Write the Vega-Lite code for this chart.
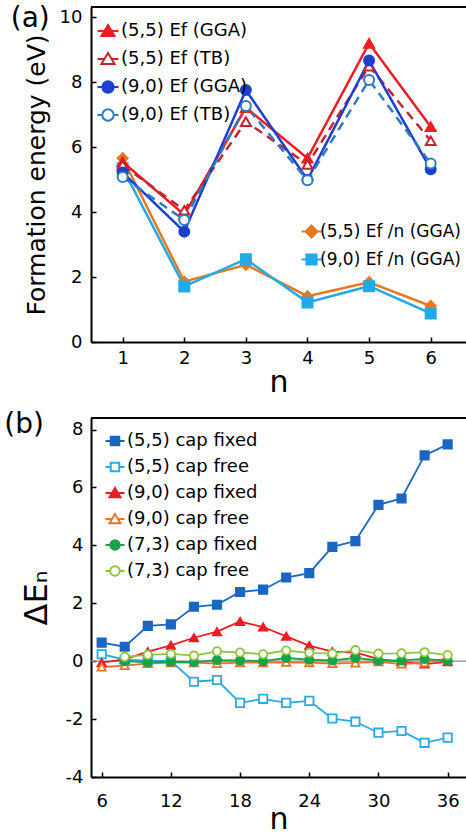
{
  "$schema": "https://vega.github.io/schema/vega-lite/v6.json",
  "background": "white",
  "padding": {"left": 4, "top": 5, "right": 0, "bottom": 0},
  "bounds": "flush",
  "spacing": 76,
  "config": {
    "font": "DejaVu Sans",
    "view": {"stroke": null},
    "axis": {"grid": false, "domainColor": "black", "domainWidth": 2, "tickColor": "black", "tickWidth": 1.5, "labelColor": "black", "titleColor": "black", "labelFont": "DejaVu Sans", "titleFont": "DejaVu Sans", "titleFontWeight": "normal", "labelFontSize": 18, "tickSize": -5, "labelOverlap": false},
    "legend": {"labelFont": "DejaVu Sans", "labelColor": "black", "padding": 0, "title": null}
  },
  "datasets": {
    "a1": [
      {"s": "(5,5) Ef (GGA)", "n": 1, "v": 5.55}, {"s": "(5,5) Ef (GGA)", "n": 2, "v": 3.92}, {"s": "(5,5) Ef (GGA)", "n": 3, "v": 7.22}, {"s": "(5,5) Ef (GGA)", "n": 4, "v": 5.66}, {"s": "(5,5) Ef (GGA)", "n": 5, "v": 9.2}, {"s": "(5,5) Ef (GGA)", "n": 6, "v": 6.63},
      {"s": "(5,5) Ef (TB)", "n": 1, "v": 5.45}, {"s": "(5,5) Ef (TB)", "n": 2, "v": 4.06}, {"s": "(5,5) Ef (TB)", "n": 3, "v": 6.79}, {"s": "(5,5) Ef (TB)", "n": 4, "v": 5.47}, {"s": "(5,5) Ef (TB)", "n": 5, "v": 8.5}, {"s": "(5,5) Ef (TB)", "n": 6, "v": 6.2},
      {"s": "(9,0) Ef (GGA)", "n": 1, "v": 5.22}, {"s": "(9,0) Ef (GGA)", "n": 2, "v": 3.4}, {"s": "(9,0) Ef (GGA)", "n": 3, "v": 7.76}, {"s": "(9,0) Ef (GGA)", "n": 4, "v": 5.0}, {"s": "(9,0) Ef (GGA)", "n": 5, "v": 8.67}, {"s": "(9,0) Ef (GGA)", "n": 6, "v": 5.32},
      {"s": "(9,0) Ef (TB)", "n": 1, "v": 5.08}, {"s": "(9,0) Ef (TB)", "n": 2, "v": 3.76}, {"s": "(9,0) Ef (TB)", "n": 3, "v": 7.27}, {"s": "(9,0) Ef (TB)", "n": 4, "v": 4.98}, {"s": "(9,0) Ef (TB)", "n": 5, "v": 8.07}, {"s": "(9,0) Ef (TB)", "n": 6, "v": 5.5}
    ],
    "a2": [
      {"s": "(5,5) Ef /n (GGA)", "n": 1, "v": 5.66}, {"s": "(5,5) Ef /n (GGA)", "n": 2, "v": 1.86}, {"s": "(5,5) Ef /n (GGA)", "n": 3, "v": 2.38}, {"s": "(5,5) Ef /n (GGA)", "n": 4, "v": 1.41}, {"s": "(5,5) Ef /n (GGA)", "n": 5, "v": 1.84}, {"s": "(5,5) Ef /n (GGA)", "n": 6, "v": 1.11},
      {"s": "(9,0) Ef /n (GGA)", "n": 1, "v": 5.35}, {"s": "(9,0) Ef /n (GGA)", "n": 2, "v": 1.71}, {"s": "(9,0) Ef /n (GGA)", "n": 3, "v": 2.55}, {"s": "(9,0) Ef /n (GGA)", "n": 4, "v": 1.22}, {"s": "(9,0) Ef /n (GGA)", "n": 5, "v": 1.72}, {"s": "(9,0) Ef /n (GGA)", "n": 6, "v": 0.88}
    ],
    "b": [
      {"s": "(5,5) cap fixed", "n": 6, "v": 0.64}, {"s": "(5,5) cap fixed", "n": 8, "v": 0.5}, {"s": "(5,5) cap fixed", "n": 10, "v": 1.22}, {"s": "(5,5) cap fixed", "n": 12, "v": 1.27}, {"s": "(5,5) cap fixed", "n": 14, "v": 1.88}, {"s": "(5,5) cap fixed", "n": 16, "v": 1.95}, {"s": "(5,5) cap fixed", "n": 18, "v": 2.39}, {"s": "(5,5) cap fixed", "n": 20, "v": 2.47}, {"s": "(5,5) cap fixed", "n": 22, "v": 2.89}, {"s": "(5,5) cap fixed", "n": 24, "v": 3.04}, {"s": "(5,5) cap fixed", "n": 26, "v": 3.95}, {"s": "(5,5) cap fixed", "n": 28, "v": 4.15}, {"s": "(5,5) cap fixed", "n": 30, "v": 5.4}, {"s": "(5,5) cap fixed", "n": 32, "v": 5.62}, {"s": "(5,5) cap fixed", "n": 34, "v": 7.11}, {"s": "(5,5) cap fixed", "n": 36, "v": 7.49},
      {"s": "(5,5) cap free", "n": 6, "v": 0.24}, {"s": "(5,5) cap free", "n": 8, "v": 0.05}, {"s": "(5,5) cap free", "n": 10, "v": 0.02}, {"s": "(5,5) cap free", "n": 12, "v": 0.01}, {"s": "(5,5) cap free", "n": 14, "v": -0.71}, {"s": "(5,5) cap free", "n": 16, "v": -0.65}, {"s": "(5,5) cap free", "n": 18, "v": -1.44}, {"s": "(5,5) cap free", "n": 20, "v": -1.3}, {"s": "(5,5) cap free", "n": 22, "v": -1.44}, {"s": "(5,5) cap free", "n": 24, "v": -1.37}, {"s": "(5,5) cap free", "n": 26, "v": -1.98}, {"s": "(5,5) cap free", "n": 28, "v": -2.09}, {"s": "(5,5) cap free", "n": 30, "v": -2.47}, {"s": "(5,5) cap free", "n": 32, "v": -2.41}, {"s": "(5,5) cap free", "n": 34, "v": -2.82}, {"s": "(5,5) cap free", "n": 36, "v": -2.64},
      {"s": "(9,0) cap fixed", "n": 6, "v": -0.05}, {"s": "(9,0) cap fixed", "n": 8, "v": 0.06}, {"s": "(9,0) cap fixed", "n": 10, "v": 0.33}, {"s": "(9,0) cap fixed", "n": 12, "v": 0.55}, {"s": "(9,0) cap fixed", "n": 14, "v": 0.81}, {"s": "(9,0) cap fixed", "n": 16, "v": 1.02}, {"s": "(9,0) cap fixed", "n": 18, "v": 1.37}, {"s": "(9,0) cap fixed", "n": 20, "v": 1.18}, {"s": "(9,0) cap fixed", "n": 22, "v": 0.86}, {"s": "(9,0) cap fixed", "n": 24, "v": 0.54}, {"s": "(9,0) cap fixed", "n": 26, "v": 0.33}, {"s": "(9,0) cap fixed", "n": 28, "v": 0.3}, {"s": "(9,0) cap fixed", "n": 30, "v": 0.07}, {"s": "(9,0) cap fixed", "n": 32, "v": -0.02}, {"s": "(9,0) cap fixed", "n": 34, "v": -0.1}, {"s": "(9,0) cap fixed", "n": 36, "v": -0.02},
      {"s": "(9,0) cap free", "n": 6, "v": -0.2}, {"s": "(9,0) cap free", "n": 8, "v": -0.15}, {"s": "(9,0) cap free", "n": 10, "v": -0.08}, {"s": "(9,0) cap free", "n": 12, "v": -0.05}, {"s": "(9,0) cap free", "n": 14, "v": -0.05}, {"s": "(9,0) cap free", "n": 16, "v": -0.08}, {"s": "(9,0) cap free", "n": 18, "v": -0.05}, {"s": "(9,0) cap free", "n": 20, "v": -0.05}, {"s": "(9,0) cap free", "n": 22, "v": -0.04}, {"s": "(9,0) cap free", "n": 24, "v": -0.05}, {"s": "(9,0) cap free", "n": 26, "v": -0.08}, {"s": "(9,0) cap free", "n": 28, "v": -0.06}, {"s": "(9,0) cap free", "n": 30, "v": -0.02}, {"s": "(9,0) cap free", "n": 32, "v": -0.1}, {"s": "(9,0) cap free", "n": 34, "v": -0.05}, {"s": "(9,0) cap free", "n": 36, "v": 0.1},
      {"s": "(7,3) cap fixed", "n": 8, "v": 0.0}, {"s": "(7,3) cap fixed", "n": 10, "v": -0.04}, {"s": "(7,3) cap fixed", "n": 12, "v": -0.02}, {"s": "(7,3) cap fixed", "n": 14, "v": -0.03}, {"s": "(7,3) cap fixed", "n": 16, "v": 0.04}, {"s": "(7,3) cap fixed", "n": 18, "v": 0.03}, {"s": "(7,3) cap fixed", "n": 20, "v": 0.0}, {"s": "(7,3) cap fixed", "n": 22, "v": 0.11}, {"s": "(7,3) cap fixed", "n": 24, "v": 0.05}, {"s": "(7,3) cap fixed", "n": 26, "v": 0.03}, {"s": "(7,3) cap fixed", "n": 28, "v": 0.11}, {"s": "(7,3) cap fixed", "n": 30, "v": 0.03}, {"s": "(7,3) cap fixed", "n": 32, "v": 0.03}, {"s": "(7,3) cap fixed", "n": 34, "v": 0.08}, {"s": "(7,3) cap fixed", "n": 36, "v": 0.01},
      {"s": "(7,3) cap free", "n": 8, "v": 0.15}, {"s": "(7,3) cap free", "n": 10, "v": 0.22}, {"s": "(7,3) cap free", "n": 12, "v": 0.25}, {"s": "(7,3) cap free", "n": 14, "v": 0.19}, {"s": "(7,3) cap free", "n": 16, "v": 0.34}, {"s": "(7,3) cap free", "n": 18, "v": 0.3}, {"s": "(7,3) cap free", "n": 20, "v": 0.24}, {"s": "(7,3) cap free", "n": 22, "v": 0.37}, {"s": "(7,3) cap free", "n": 24, "v": 0.29}, {"s": "(7,3) cap free", "n": 26, "v": 0.26}, {"s": "(7,3) cap free", "n": 28, "v": 0.38}, {"s": "(7,3) cap free", "n": 30, "v": 0.26}, {"s": "(7,3) cap free", "n": 32, "v": 0.27}, {"s": "(7,3) cap free", "n": 34, "v": 0.31}, {"s": "(7,3) cap free", "n": 36, "v": 0.21}
    ]
  },
  "vconcat": [
    {
      "width": 375,
      "height": 335,
      "layer": [
        {
          "data": {"values": [{"t": "top"}]},
          "mark": {"type": "rule", "color": "black", "strokeWidth": 2},
          "encoding": {"y": {"datum": 10.32, "type": "quantitative", "scale": {"domain": [0, 10.32], "nice": false}}}
        },
        {
          "data": {"name": "a2"},
          "mark": {"type": "line", "strokeWidth": 2.5},
          "encoding": {
            "x": {"field": "n", "type": "quantitative", "scale": {"domain": [0.486, 6.573], "nice": false, "zero": false},
              "axis": {"values": [1, 2, 3, 4, 5, 6], "format": "d", "labelPadding": 12, "title": "n", "titleFontSize": 30, "titlePadding": 0}},
            "y": {"field": "v", "type": "quantitative", "scale": {"domain": [0, 10.32], "nice": false},
              "axis": {"values": [0, 1, 2, 3, 4, 5, 6, 7, 8, 9, 10], "labelExpr": "datum.value % 2 == 0 ? toString(datum.value) : ''", "labelPadding": 14, "title": "Formation energy (eV)", "titleFontSize": 25, "titlePadding": 10}},
            "stroke": {"field": "s", "type": "nominal", "scale": {"domain": ["(5,5) Ef /n (GGA)", "(9,0) Ef /n (GGA)"], "range": ["#e8781e", "#22a9e8"]}, "legend": null}
          }
        },
        {
          "data": {"name": "a2"},
          "mark": {"type": "point", "filled": false, "opacity": 1, "strokeWidth": 2, "size": 100},
          "encoding": {
            "x": {"field": "n", "type": "quantitative"},
            "y": {"field": "v", "type": "quantitative"},
            "stroke": {"field": "s", "type": "nominal", "scale": {"domain": ["(5,5) Ef /n (GGA)", "(9,0) Ef /n (GGA)"], "range": ["#e8781e", "#22a9e8"]}, "legend": null},
            "fill": {"field": "s", "type": "nominal", "scale": {"domain": ["(5,5) Ef /n (GGA)", "(9,0) Ef /n (GGA)"], "range": ["#e8781e", "#22a9e8"]}, "legend": null},
            "shape": {"field": "s", "type": "nominal", "scale": {"domain": ["(5,5) Ef /n (GGA)", "(9,0) Ef /n (GGA)"], "range": ["diamond", "square"]}, "legend": null}
          }
        },
        {
          "data": {"name": "a2"},
          "mark": {"type": "point", "filled": false, "opacity": 1, "strokeWidth": 2, "size": 0},
          "encoding": {
            "x": {"field": "n", "type": "quantitative"},
            "y": {"field": "v", "type": "quantitative"},
            "stroke": {"field": "s", "type": "nominal", "scale": {"domain": ["(5,5) Ef /n (GGA)", "(9,0) Ef /n (GGA)"], "range": ["#e8781e", "#22a9e8"]},
              "legend": {"orient": "none", "legendX": 212, "legendY": 216, "symbolSize": 144, "symbolStrokeWidth": 2, "labelFontSize": 17, "labelOffset": 0, "rowPadding": 8}},
            "fill": {"field": "s", "type": "nominal", "scale": {"domain": ["(5,5) Ef /n (GGA)", "(9,0) Ef /n (GGA)"], "range": ["#e8781e", "#22a9e8"]}},
            "shape": {"field": "s", "type": "nominal", "scale": {"domain": ["(5,5) Ef /n (GGA)", "(9,0) Ef /n (GGA)"], "range": ["M-1.65,0H-1M1,0H1.65M0,-1L1,0L0,1L-1,0Z", "M-1.65,0H-0.85M0.85,0H1.65M-0.85,-0.85H0.85V0.85H-0.85Z"]}}
          }
        },
        {
          "data": {"name": "a1"},
          "mark": {"type": "line", "strokeWidth": 2.5},
          "encoding": {
            "x": {"field": "n", "type": "quantitative"},
            "y": {"field": "v", "type": "quantitative"},
            "stroke": {"field": "s", "type": "nominal", "scale": {"domain": ["(5,5) Ef (GGA)", "(5,5) Ef (TB)", "(9,0) Ef (GGA)", "(9,0) Ef (TB)"], "range": ["#ee1c25", "#c2262e", "#1d3fcf", "#2c7cc1"]}, "legend": null},
            "strokeDash": {"field": "s", "type": "nominal", "scale": {"domain": ["(5,5) Ef (GGA)", "(5,5) Ef (TB)", "(9,0) Ef (GGA)", "(9,0) Ef (TB)"], "range": [[1, 0], [9, 6], [1, 0], [9, 6]]}, "legend": null}
          }
        },
        {
          "data": {"name": "a1"},
          "mark": {"type": "point", "filled": false, "opacity": 1, "strokeWidth": 2, "size": 100},
          "encoding": {
            "x": {"field": "n", "type": "quantitative"},
            "y": {"field": "v", "type": "quantitative"},
            "stroke": {"field": "s", "type": "nominal", "scale": {"domain": ["(5,5) Ef (GGA)", "(5,5) Ef (TB)", "(9,0) Ef (GGA)", "(9,0) Ef (TB)"], "range": ["#ee1c25", "#c2262e", "#1d3fcf", "#2c7cc1"]}, "legend": null},
            "fill": {"field": "s", "type": "nominal", "scale": {"domain": ["(5,5) Ef (GGA)", "(5,5) Ef (TB)", "(9,0) Ef (GGA)", "(9,0) Ef (TB)"], "range": ["#ee1c25", "white", "#1d3fcf", "white"]}, "legend": null},
            "shape": {"field": "s", "type": "nominal", "scale": {"domain": ["(5,5) Ef (GGA)", "(5,5) Ef (TB)", "(9,0) Ef (GGA)", "(9,0) Ef (TB)"], "range": ["triangle-up", "triangle-up", "circle", "circle"]}, "legend": null}
          }
        },
        {
          "data": {"name": "a1"},
          "mark": {"type": "point", "filled": false, "opacity": 1, "strokeWidth": 2, "size": 0},
          "encoding": {
            "x": {"field": "n", "type": "quantitative"},
            "y": {"field": "v", "type": "quantitative"},
            "stroke": {"field": "s", "type": "nominal", "scale": {"domain": ["(5,5) Ef (GGA)", "(5,5) Ef (TB)", "(9,0) Ef (GGA)", "(9,0) Ef (TB)"], "range": ["#ee1c25", "#c2262e", "#1d3fcf", "#2c7cc1"]},
              "legend": {"orient": "none", "legendX": 8, "legendY": 15, "symbolSize": 144, "symbolStrokeWidth": 2, "labelFontSize": 18, "labelOffset": 4, "rowPadding": 8}},
            "fill": {"field": "s", "type": "nominal", "scale": {"domain": ["(5,5) Ef (GGA)", "(5,5) Ef (TB)", "(9,0) Ef (GGA)", "(9,0) Ef (TB)"], "range": ["#ee1c25", "white", "#1d3fcf", "white"]}},
            "shape": {"field": "s", "type": "nominal", "scale": {"domain": ["(5,5) Ef (GGA)", "(5,5) Ef (TB)", "(9,0) Ef (GGA)", "(9,0) Ef (TB)"], "range": ["M-1.75,0H-0.6M0.6,0H1.75M0,-1L1.1,0.85L-1.1,0.85Z", "M-1.75,0H-0.6M0.6,0H1.75M0,-1L1.1,0.85L-1.1,0.85Z", "M-1.75,0H-0.95M0.95,0H1.75M0.95,0A0.95,0.95,0,1,1,-0.95,0A0.95,0.95,0,1,1,0.95,0Z", "M-1.75,0H-0.95M0.95,0H1.75M0.95,0A0.95,0.95,0,1,1,-0.95,0A0.95,0.95,0,1,1,0.95,0Z"]}}
          }
        },
        {
          "data": {"values": [{"label": "(a)"}]},
          "mark": {"type": "text", "fontSize": 28, "font": "DejaVu Sans", "align": "center", "baseline": "middle", "color": "black"},
          "encoding": {"x": {"datum": -0.5, "type": "quantitative"}, "y": {"datum": 9.95, "type": "quantitative"}, "text": {"field": "label"}}
        }
      ],
      "resolve": {"scale": {"stroke": "independent", "fill": "independent", "shape": "independent", "strokeDash": "independent"}}
    },
    {
      "width": 375,
      "height": 359,
      "layer": [
        {
          "data": {"values": [{"t": "top", "yv": 8.4}, {"t": "zero", "yv": 0}]},
          "mark": {"type": "rule"},
          "encoding": {
            "y": {"field": "yv", "type": "quantitative", "scale": {"domain": [-4, 8.4], "nice": false}},
            "color": {"field": "t", "type": "nominal", "scale": {"domain": ["top", "zero"], "range": ["black", "#8a8a8a"]}, "legend": null},
            "strokeWidth": {"field": "t", "type": "nominal", "scale": {"domain": ["top", "zero"], "range": [2, 1.2]}, "legend": null}
          }
        },
        {
          "data": {"name": "b"},
          "mark": {"type": "line", "strokeWidth": 1.8},
          "encoding": {
            "x": {"field": "n", "type": "quantitative", "scale": {"domain": [5.075, 37.59], "nice": false, "zero": false},
              "axis": {"values": [6, 12, 18, 24, 30, 36], "format": "d", "labelPadding": 20, "title": "n", "titleFontSize": 30, "titlePadding": -6}},
            "y": {"field": "v", "type": "quantitative", "scale": {"domain": [-4, 8.4], "nice": false},
              "axis": {"values": [-4, -3, -2, -1, 0, 1, 2, 3, 4, 5, 6, 7, 8], "labelExpr": "datum.value % 2 == 0 ? toString(datum.value) : ''", "labelPadding": 13, "title": "ΔEₙ", "titleFontSize": 32, "titlePadding": 12}},
            "stroke": {"field": "s", "type": "nominal", "scale": {"domain": ["(5,5) cap fixed", "(5,5) cap free", "(9,0) cap fixed", "(9,0) cap free", "(7,3) cap fixed", "(7,3) cap free"], "range": ["#1a66c2", "#29abe2", "#ed1c24", "#e8742a", "#17a34a", "#8dc63f"]}, "legend": null}
          }
        },
        {
          "data": {"name": "b"},
          "mark": {"type": "point", "filled": false, "opacity": 1, "strokeWidth": 1.8, "size": 70},
          "encoding": {
            "x": {"field": "n", "type": "quantitative"},
            "y": {"field": "v", "type": "quantitative"},
            "stroke": {"field": "s", "type": "nominal", "scale": {"domain": ["(5,5) cap fixed", "(5,5) cap free", "(9,0) cap fixed", "(9,0) cap free", "(7,3) cap fixed", "(7,3) cap free"], "range": ["#1a66c2", "#29abe2", "#ed1c24", "#e8742a", "#17a34a", "#8dc63f"]}, "legend": null},
            "fill": {"field": "s", "type": "nominal", "scale": {"domain": ["(5,5) cap fixed", "(5,5) cap free", "(9,0) cap fixed", "(9,0) cap free", "(7,3) cap fixed", "(7,3) cap free"], "range": ["#1a66c2", "white", "#ed1c24", "white", "#17a34a", "white"]}, "legend": null},
            "shape": {"field": "s", "type": "nominal", "scale": {"domain": ["(5,5) cap fixed", "(5,5) cap free", "(9,0) cap fixed", "(9,0) cap free", "(7,3) cap fixed", "(7,3) cap free"], "range": ["square", "square", "triangle-up", "triangle-up", "circle", "circle"]}, "legend": null}
          }
        },
        {
          "data": {"name": "b"},
          "mark": {"type": "point", "filled": false, "opacity": 1, "strokeWidth": 1.8, "size": 0},
          "encoding": {
            "x": {"field": "n", "type": "quantitative"},
            "y": {"field": "v", "type": "quantitative"},
            "stroke": {"field": "s", "type": "nominal", "scale": {"domain": ["(5,5) cap fixed", "(5,5) cap free", "(9,0) cap fixed", "(9,0) cap free", "(7,3) cap fixed", "(7,3) cap free"], "range": ["#1a66c2", "#29abe2", "#ed1c24", "#e8742a", "#17a34a", "#8dc63f"]},
              "legend": {"orient": "none", "legendX": 15, "legendY": 14, "symbolSize": 100, "symbolStrokeWidth": 2, "labelFontSize": 18, "labelOffset": 3, "rowPadding": 8}},
            "fill": {"field": "s", "type": "nominal", "scale": {"domain": ["(5,5) cap fixed", "(5,5) cap free", "(9,0) cap fixed", "(9,0) cap free", "(7,3) cap fixed", "(7,3) cap free"], "range": ["#1a66c2", "white", "#ed1c24", "white", "#17a34a", "white"]}},
            "shape": {"field": "s", "type": "nominal", "scale": {"domain": ["(5,5) cap fixed", "(5,5) cap free", "(9,0) cap fixed", "(9,0) cap free", "(7,3) cap fixed", "(7,3) cap free"], "range": ["M-1.9,0H-0.85M0.85,0H1.9M-0.85,-0.85H0.85V0.85H-0.85Z", "M-1.9,0H-0.85M0.85,0H1.9M-0.85,-0.85H0.85V0.85H-0.85Z", "M-1.9,0H-0.6M0.6,0H1.9M0,-1L1.1,0.85L-1.1,0.85Z", "M-1.9,0H-0.6M0.6,0H1.9M0,-1L1.1,0.85L-1.1,0.85Z", "M-1.9,0H-0.95M0.95,0H1.9M0.95,0A0.95,0.95,0,1,1,-0.95,0A0.95,0.95,0,1,1,0.95,0Z", "M-1.9,0H-0.95M0.95,0H1.9M0.95,0A0.95,0.95,0,1,1,-0.95,0A0.95,0.95,0,1,1,0.95,0Z"]}}
          }
        },
        {
          "data": {"values": [{"label": "(b)"}]},
          "mark": {"type": "text", "fontSize": 28, "font": "DejaVu Sans", "align": "center", "baseline": "middle", "color": "black"},
          "encoding": {"x": {"datum": -0.73, "type": "quantitative"}, "y": {"datum": 8.15, "type": "quantitative"}, "text": {"field": "label"}}
        }
      ],
      "resolve": {"scale": {"stroke": "independent", "fill": "independent", "shape": "independent", "color": "independent", "strokeWidth": "independent"}}
    }
  ]
}
